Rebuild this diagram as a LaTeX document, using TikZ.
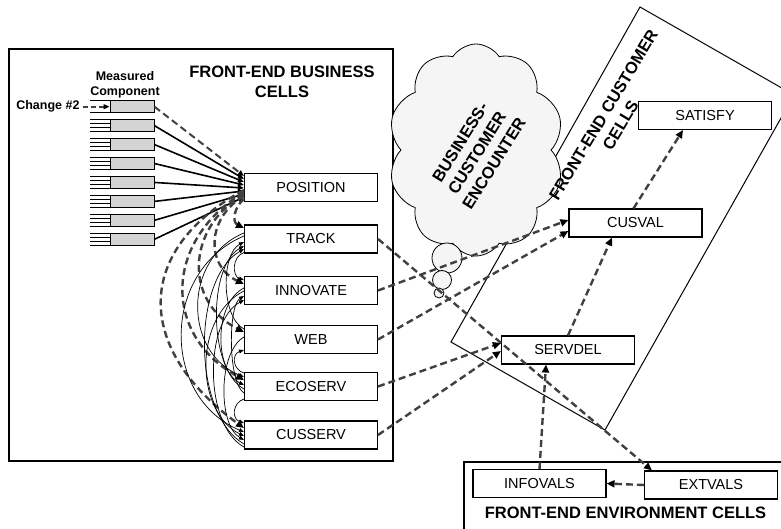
\documentclass[tikz,border=0pt]{standalone}
\usepackage{fontspec}
\setmainfont{Liberation Sans}
\usetikzlibrary{arrows.meta,shapes.symbols}

\begin{document}
\begin{tikzpicture}[x=1pt,y=1pt,
  cell/.style={draw, line width=1.1pt, fill=white, minimum width=133pt, minimum height=28pt, inner sep=0pt, font=\fontsize{14.5}{17}\selectfont},
  meas/.style={draw, line width=0.9pt, fill=black!17, minimum width=44pt, minimum height=12pt, inner sep=0pt},
  frame/.style={draw, line width=1.2pt},
  title/.style={font=\fontsize{16.5}{20}\selectfont\bfseries, align=center},
  small/.style={font=\fontsize{12.5}{15}\selectfont\bfseries, align=center},
  flow/.style={draw=black!75, line width=2.4pt, dash pattern=on 7pt off 4pt, -{Triangle[length=8pt,width=7pt,black]}},
  feed/.style={draw=black, line width=1.6pt, -{Triangle[length=6pt,width=5pt]}},
  link/.style={draw=black, line width=0.7pt, -{Triangle[length=5pt,width=4pt]}},
  tick/.style={draw=black, line width=0.8pt},
  bubble/.style={circle, draw, line width=0.8pt, fill=black!4, inner sep=0pt},
]
\useasboundingbox (0,0) rectangle (781,-529);

% region frames
\draw[frame] (9,-49) rectangle (393,-461);
\draw[frame] (464,-462) rectangle (800,-545);
\draw[line width=1pt] (640,-7) -- (794,-95) -- (605,-430) -- (451,-342) -- cycle;

% thought cloud
\node[cloud, draw, line width=0.8pt, fill=black!4, cloud puffs=10, cloud puff arc=115,
      cloud ignores aspect, minimum width=176pt, minimum height=212pt, inner sep=0pt] (cloud) at (476,-150) {};
\node[bubble, minimum size=30pt] (b1) at (447,-258) {};
\node[bubble, minimum size=19pt] (b2) at (442,-280) {};
\node[bubble, minimum size=10pt] (b3) at (439,-293) {};
\node[title, rotate=58] (cloudtxt) at (477,-153) {BUSINESS-\\CUSTOMER\\ENCOUNTER};

% titles
\node[title] (btitle) at (282,-82) {FRONT-END BUSINESS\\CELLS};
\node[title, rotate=59] (ctitle) at (612,-120) {FRONT-END CUSTOMER\\CELLS};
\node[title] (etitle) at (625.5,-513) {FRONT-END ENVIRONMENT CELLS};
\node[small] (mlabel) at (125,-84.5) {Measured\\Component};

% business cells
\node[cell] (pos)   at (311,-187.5) {POSITION};
\node[cell] (track) at (311,-239)   {TRACK};
\node[cell] (innov) at (311,-290.5) {INNOVATE};
\node[cell] (web)   at (311,-339.5) {WEB};
\node[cell] (eco)   at (311,-386.5) {ECOSERV};
\node[cell] (cus)   at (311,-435)   {CUSSERV};

% customer and environment cells
\node[cell] (satisfy)  at (705,-115.5) {SATISFY};
\node[cell] (cusval)   at (635.5,-223) {CUSVAL};
\node[cell] (servdel)  at (568,-350)   {SERVDEL};
\node[cell] (infovals) at (539.5,-483.5) {INFOVALS};
\node[cell] (extvals)  at (711,-485)   {EXTVALS};

% measured components with their input lines
\foreach \i in {0,...,7} {
  \node[meas] (m\i) at (132,{-106.7-18.94*\i}) {};
}
\foreach \i in {1,...,7} {
  \foreach \d in {-6,-2,2,6} {
    \draw[tick] ([yshift=\d]m\i.west) -- ++(-20,0);
  }
}
\draw[tick] ([yshift=6]m0.west) -- ++(-20,0);
\draw[tick] ([yshift=-6]m0.west) -- ++(-20,0);
\node[small, anchor=east] (chg) at (83,-106.7) {Change \#2};
\draw[flow, line width=1.8pt, dash pattern=on 5pt off 3pt, -{Triangle[length=6pt,width=5pt,black]}] (chg.east) -- (m0.west);

% components feeding POSITION
\draw[flow, line width=2pt, -{Triangle[length=6pt,width=5pt,black]}] (m0.east) -- ([yshift=11.5]pos.west);
\foreach \i in {1,...,7} {
  \draw[feed] (m\i.east) -- ([yshift={11.5-3*\i}]pos.west);
}

% POSITION to the other business cells
\draw[flow] ([yshift=-11.5]pos.west) .. controls +(-10,-8) and +(-12,6) .. ([yshift=11]track.west);
\draw[flow] ([yshift=-8.5]pos.west) .. controls +(-38,-22) and +(-38,18) .. ([yshift=6.5]innov.west);
\draw[flow] ([yshift=-6.5]pos.west) .. controls +(-59,-35) and +(-59,30) .. ([yshift=7.5]web.west);
\draw[flow] ([yshift=-4.5]pos.west) .. controls +(-81,-50) and +(-81,45) .. ([yshift=6.5]eco.west);
\draw[flow] ([yshift=-2.5]pos.west) .. controls +(-110,-60) and +(-110,80) .. ([yshift=7]cus.west);

% links among business cells
\draw[link] ([yshift=-13.5]track.west) .. controls +(-12,-4) and +(-12,4) .. ([yshift=10.5]innov.west);
\draw[link] ([yshift=6]track.west) .. controls +(-61,-25) and +(-61,25) .. ([yshift=9.5]eco.west);
\draw[link] ([yshift=3]track.west) .. controls +(-83,-35) and +(-83,35) .. ([yshift=3]cus.west);
\draw[link] ([yshift=10.5]web.west) .. controls +(-23,12) and +(-23,-12) .. ([yshift=-3]track.west);
\draw[link] ([yshift=-2.5]eco.west) .. controls +(-36,20) and +(-36,-20) .. ([yshift=-7]track.west);
\draw[link] ([yshift=-9]cus.west) .. controls +(-52,30) and +(-52,-30) .. ([yshift=-10]track.west);
\draw[link] ([yshift=2.5]innov.west) .. controls +(-30,-15) and +(-30,15) .. ([yshift=1.5]eco.west);
\draw[link] ([yshift=-0.5]innov.west) .. controls +(-50,-25) and +(-50,25) .. ([yshift=-1]cus.west);
\draw[link] ([yshift=-6.5]eco.west) .. controls +(-16,10) and +(-16,-10) .. ([yshift=-5.5]innov.west);
\draw[link] ([yshift=-12]cus.west) .. controls +(-40,22) and +(-40,-22) .. ([yshift=-9.5]innov.west);
\draw[link] ([yshift=13.5]eco.west) .. controls +(-12,4) and +(-12,-4) .. ([yshift=-10.5]web.west);
\draw[link] ([yshift=2.5]web.west) .. controls +(-26,-15) and +(-26,15) .. ([yshift=-5]cus.west);
\draw[link] ([yshift=-12.5]eco.west) .. controls +(-12,-4) and +(-12,4) .. ([yshift=12]cus.west);

% flows to customer and environment cells
\draw[flow] (track.east) -- ([xshift=8]extvals.north west);
\draw[flow] (innov.east) -- ([yshift=3]cusval.west);
\draw[flow] (web.east) -- ([yshift=-8]cusval.west);
\draw[flow] (eco.east) -- ([yshift=7]servdel.west);
\draw[flow] (cus.east) -- ([yshift=-1]servdel.west);
\draw[flow] ([xshift=-2]cusval.north) -- ([xshift=-22]satisfy.south);
\draw[flow] (servdel.north) -- ([xshift=-23.5]cusval.south);
\draw[flow] (infovals.north) -- ([xshift=-22]servdel.south);
\draw[flow] (extvals.west) -- (infovals.east);
\end{tikzpicture}
\end{document}
